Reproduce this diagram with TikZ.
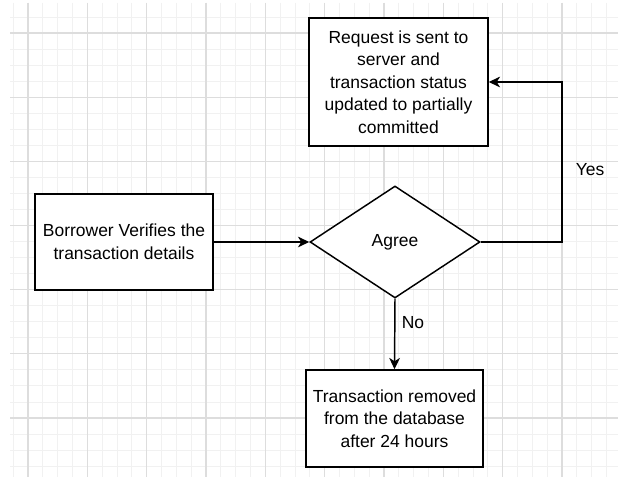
\documentclass[tikz,border=0pt]{standalone}
\usepackage{fontspec}
\setmainfont{Liberation Sans}
\usetikzlibrary{shapes.geometric,arrows.meta}
\definecolor{gridmajor}{HTML}{DDDDDD}
\definecolor{gridminor}{HTML}{F1F1F1}
\tikzset{
  box/.style={draw=black, line width=1.1pt, fill=white, rectangle, align=center,
    inner sep=0pt, font=\fontsize{13.1pt}{16.9pt}\selectfont},
  decision/.style={draw=black, line width=1.1pt, fill=white, diamond, inner sep=0pt,
    minimum width=127.5pt, minimum height=84pt, font=\fontsize{13.1pt}{16.9pt}\selectfont},
  arr/.style={draw=black, line width=1.1pt, -{Stealth[length=8.5pt,width=8pt,inset=2.5pt]}},
  lbl/.style={font=\fontsize{13.1pt}{16.9pt}\selectfont, inner sep=0pt},
  minorline/.style={draw=gridminor, line width=0.6pt},
  majorline/.style={draw=gridmajor, line width=0.8pt}
}
\begin{document}
\begin{tikzpicture}[x=0.75pt, y=-0.75pt]
\useasboundingbox[fill=white] (0,0) rectangle (618,477);
\begin{scope}
\clip (10,3) rectangle (618,477);
\foreach \i in {-1,...,40} {
  \draw[minorline] ({28+\i*14.833},3) -- ({28+\i*14.833},477);
}
\foreach \j in {-2,...,29} {
  \draw[minorline] (10,{33+\j*16.04}) -- (618,{33+\j*16.04});
}
\foreach \i in {0,...,10} {
  \draw[majorline] ({28+\i*59.33},3) -- ({28+\i*59.33},477);
}
\foreach \j in {-1,...,7} {
  \draw[majorline] (10,{33+\j*64.17}) -- (618,{33+\j*64.17});
}
\end{scope}

\node[box, minimum width=134.25pt, minimum height=96pt] (top) at (398.5,82)
  {Request is sent to\\server and\\transaction status\\updated to partially\\committed};
\node[box, minimum width=133.5pt, minimum height=72pt] (verify) at (124,242)
  {Borrower Verifies the\\transaction details};
\node[decision] (agree) at (395,242) {Agree};
\node[box, minimum width=132.75pt, minimum height=72.75pt] (removed) at (394.5,418.5)
  {Transaction removed\\from the database\\after 24 hours};

\coordinate (turn) at (562,82);
\draw[arr] (verify.east) -- (agree.west);
\draw[arr] (agree.east) -| (turn) -- (top.east);
\draw[arr] (agree.south) -- (removed.north);

\node[lbl] (yes) at (590,170) {Yes};
\node[lbl] (no) at (413,323) {No};
\end{tikzpicture}
\end{document}
